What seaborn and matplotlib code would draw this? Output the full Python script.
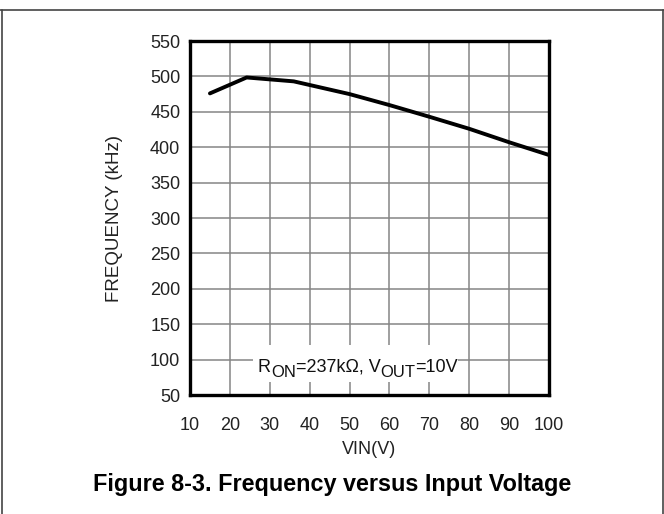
import matplotlib
matplotlib.use("Agg")
import matplotlib.pyplot as plt
import seaborn as sns
import pandas as pd
from matplotlib.lines import Line2D
from matplotlib.patches import Rectangle

vin = [15, 24.2, 36, 50, 60, 70, 80, 90, 100]
freq = [476, 498.5, 493, 475, 459.5, 443, 426, 407, 389]
xticks = [10, 20, 30, 40, 50, 60, 70, 80, 90, 100]
yticks = [50, 100, 150, 200, 250, 300, 350, 400, 450, 500, 550]

sns.set_theme(style="white")
plt.rcParams['font.family'] = ['Liberation Sans', 'DejaVu Sans']

fig = plt.figure(figsize=(6.64, 5.14), dpi=100)
ax = fig.add_axes([190/664, 1-395/514, 359/664, 354/514])

df = pd.DataFrame({"VIN": vin, "FREQ": freq})
sns.lineplot(data=df, x="VIN", y="FREQ", ax=ax, color="black", lw=2.8, zorder=3)

ax.set_xlim(10, 100)
ax.set_ylim(50, 550)
ax.set_xticks(xticks)
ax.set_yticks(yticks)
ax.set_xticklabels([str(t) for t in xticks], fontsize=13, color="#222222")
ax.set_yticklabels([str(t) for t in yticks], fontsize=13, color="#222222")
ax.tick_params(axis='x', length=0, pad=16)
ax.tick_params(axis='y', length=0, pad=7)
ax.grid(True, color="#858585", lw=1.1)
ax.set_axisbelow(True)
for s in ax.spines.values():
    s.set_color("black")
    s.set_linewidth(2.4)
    s.set_zorder(5)

ax.xaxis.set_label_coords((370-190)/359, (395-449)/354)
ax.set_xlabel("VIN(V)", fontsize=13, color="#222222", va="center")
ax.yaxis.set_label_coords((123-190)/359, (395-226)/354)
ax.set_ylabel("FREQUENCY (kHz)", fontsize=13.5, color="#222222")

# white box behind the annotation
ax.add_patch(Rectangle((25.8, 68), 51.5, 52, facecolor="white", edgecolor="none", zorder=2))

fs, fsub = 13, 12
t1 = ax.text(27.0, 83, "R", fontsize=fs, ha="left", va="baseline", color="#111111", zorder=4)
t2 = ax.annotate("ON", xy=(1, 0), xycoords=t1, xytext=(0, -3.5), textcoords="offset points",
                 fontsize=fsub, ha="left", va="bottom", color="#111111", zorder=4)
t3 = ax.annotate("=237kΩ, V", xy=(1, 0), xycoords=(t2, t1), fontsize=fs,
                 ha="left", va="bottom", color="#111111", zorder=4)
t4 = ax.annotate("OUT", xy=(1, 0), xycoords=t3, xytext=(0, -3.5), textcoords="offset points",
                 fontsize=fsub, ha="left", va="bottom", color="#111111", zorder=4)
t5 = ax.annotate("=10V", xy=(1, 0), xycoords=(t4, t1), fontsize=fs,
                 ha="left", va="bottom", color="#111111", zorder=4)

fig.text(0.5, 1-485/514, "Figure 8-3. Frequency versus Input Voltage",
         ha="center", va="center", fontsize=16.8, fontweight="bold", color="black")

# figure border
for (xs, ys) in [((0, 1), (1-9.5/514, 1-9.5/514)),
                 ((1.5/664, 1.5/664), (0, 1-9.5/514)),
                 ((1-1.5/664, 1-1.5/664), (0, 1-9.5/514))]:
    fig.add_artist(Line2D(xs, ys, transform=fig.transFigure, color="#444444", lw=1.2))

fig.savefig("out.png", dpi=100)
